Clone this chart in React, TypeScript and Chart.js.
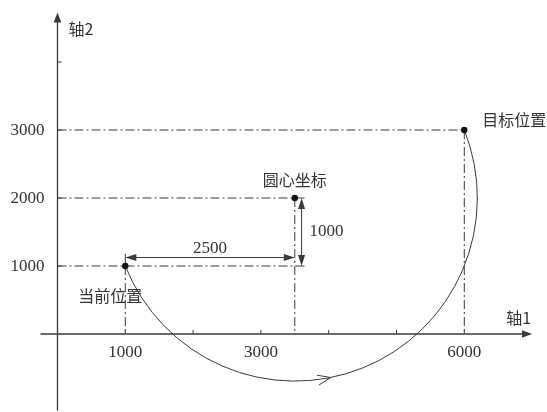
import React, { useEffect, useRef } from "react";
import { Chart, registerables } from "chart.js";
Chart.register(...registerables);

// Key positions (axis units)
const pointNames = ["当前位置", "圆心坐标", "目标位置"];
const pointX = [1000, 3500, 6000];
const pointY = [1000, 2000, 3000];
// Axis ticks
const xTicks = [1000, 2000, 3000, 4000, 5000, 6000];
const xTickLabels = [1000, 3000, 6000];
const yTicks = [1000, 2000, 3000, 4000];
const yTickLabels = [1000, 2000, 3000];
const axisNames = ["轴1", "轴2"];
// Axis extents
const xAxisRange = [-250, 7000];
const yAxisRange = [-1130, 4730];
// Guide line ends (dash-dot)
const hGuideEndX = [3650, 3650, 6000];
// Dimension line positions
const dimHY = 1125;
const dimVX = 3600;
const dimExtTopY = 1180;
// Arc direction arrow position (x value along the lower arc)
const arcArrowX = 4030;

const INK = "#3a3a3a";
const NUM_FONT = '17px "Liberation Serif", "DejaVu Serif", serif';
const CJK_FONT = '16px "Noto Sans CJK SC", "Noto Sans", sans-serif';

function arrowHead(ctx: CanvasRenderingContext2D, x: number, y: number, ang: number, len: number, hw: number, filled: boolean) {
  const bx = x - Math.cos(ang) * len;
  const by = y - Math.sin(ang) * len;
  const nx = -Math.sin(ang) * hw;
  const ny = Math.cos(ang) * hw;
  ctx.beginPath();
  ctx.moveTo(bx + nx, by + ny);
  ctx.lineTo(x, y);
  ctx.lineTo(bx - nx, by - ny);
  if (filled) {
    ctx.closePath();
    ctx.fill();
  } else {
    ctx.stroke();
  }
}

const diagramPlugin = {
  id: "diagram",
  beforeDatasetsDraw(chart: any) {
    const ctx: CanvasRenderingContext2D = chart.ctx;
    const xs = chart.scales.x;
    const ys = chart.scales.y;
    const X = (v: number) => xs.getPixelForValue(v);
    const Y = (v: number) => ys.getPixelForValue(v);
    const ox = X(0);
    const oy = Y(0);
    ctx.save();
    ctx.strokeStyle = INK;
    ctx.fillStyle = INK;
    ctx.lineWidth = 1.3;
    // x axis
    ctx.beginPath();
    ctx.moveTo(X(xAxisRange[0]), oy);
    ctx.lineTo(X(xAxisRange[1]) - 4, oy);
    ctx.stroke();
    arrowHead(ctx, X(xAxisRange[1]), oy, 0, 10, 3.8, true);
    // y axis
    ctx.beginPath();
    ctx.moveTo(ox, Y(yAxisRange[0]));
    ctx.lineTo(ox, Y(yAxisRange[1]) + 4);
    ctx.stroke();
    arrowHead(ctx, ox, Y(yAxisRange[1]), -Math.PI / 2, 10, 3.8, true);
    // ticks
    ctx.lineWidth = 1;
    xTicks.forEach((t) => {
      ctx.beginPath();
      ctx.moveTo(X(t), oy);
      ctx.lineTo(X(t), oy - 4);
      ctx.stroke();
    });
    yTicks.forEach((t) => {
      ctx.beginPath();
      ctx.moveTo(ox, Y(t));
      ctx.lineTo(ox + 4, Y(t));
      ctx.stroke();
    });
    // tick labels
    ctx.font = NUM_FONT;
    ctx.fillStyle = "#333";
    ctx.textAlign = "center";
    ctx.textBaseline = "middle";
    xTickLabels.forEach((t) => ctx.fillText(String(t), X(t), oy + 19));
    ctx.textAlign = "right";
    yTickLabels.forEach((t) => ctx.fillText(String(t), ox - 13, Y(t) + 1));
    // axis names
    ctx.font = CJK_FONT;
    ctx.textAlign = "right";
    ctx.fillText(axisNames[0], X(xAxisRange[1]) - 1, oy - 16);
    ctx.textAlign = "left";
    ctx.fillText(axisNames[1], ox + 11, Y(yAxisRange[1]) + 17);

    // extension line for horizontal dimension
    ctx.strokeStyle = INK;
    ctx.lineWidth = 1;
    ctx.beginPath();
    ctx.moveTo(X(pointX[0]), Y(pointY[0]));
    ctx.lineTo(X(pointX[0]), Y(dimExtTopY));
    ctx.stroke();
    // horizontal dimension
    const hx1 = X(pointX[0]);
    const hx2 = X(pointX[1]);
    const hy = Y(dimHY);
    ctx.beginPath();
    ctx.moveTo(hx1 + 4, hy);
    ctx.lineTo(hx2 - 4, hy);
    ctx.stroke();
    ctx.fillStyle = INK;
    arrowHead(ctx, hx1, hy, Math.PI, 11, 3.5, true);
    arrowHead(ctx, hx2, hy, 0, 11, 3.5, true);
    // vertical dimension
    const vx = X(dimVX);
    const vy1 = Y(pointY[1]);
    const vy2 = Y(pointY[0]);
    ctx.beginPath();
    ctx.moveTo(vx, vy1 + 4);
    ctx.lineTo(vx, vy2 - 4);
    ctx.stroke();
    arrowHead(ctx, vx, vy1, -Math.PI / 2, 11, 3.5, true);
    arrowHead(ctx, vx, vy2, Math.PI / 2, 11, 3.5, true);
    ctx.font = NUM_FONT;
    ctx.fillStyle = "#333";
    ctx.textAlign = "center";
    ctx.fillText(String(pointX[1] - pointX[0]), (hx1 + hx2) / 2, hy - 9);
    ctx.textAlign = "left";
    ctx.fillText(String(pointY[1] - pointY[0]), vx + 8, (vy1 + vy2) / 2);

    // arc from current to target around centre
    const cx = X(pointX[1]);
    const cy = Y(pointY[1]);
    const r = Math.hypot(pointX[1] - pointX[0], pointY[1] - pointY[0]);
    const rx = Math.abs(X(pointX[1] + r) - cx);
    const ry = Math.abs(Y(pointY[1] + r) - cy);
    const a0 = Math.atan2((Y(pointY[0]) - cy) / ry, (X(pointX[0]) - cx) / rx);
    const a1 = Math.atan2((Y(pointY[2]) - cy) / ry, (X(pointX[2]) - cx) / rx);
    ctx.strokeStyle = INK;
    ctx.lineWidth = 1;
    ctx.beginPath();
    ctx.ellipse(cx, cy, rx, ry, 0, a0, a1, true);
    ctx.stroke();
    // direction arrow on the arc
    const ta = Math.asin((X(arcArrowX) - cx) / rx);
    const t = Math.PI / 2 - ta;
    const px = cx + rx * Math.cos(t);
    const py = cy + ry * Math.sin(t);
    const dir = Math.atan2(-ry * Math.cos(t), rx * Math.sin(t));
    arrowHead(ctx, px, py, dir, 13, 5, false);

    // point names
    ctx.font = CJK_FONT;
    ctx.fillStyle = "#333";
    ctx.textAlign = "left";
    ctx.fillText(pointNames[0], X(pointX[0]) - 47, Y(pointY[0]) + 30);
    ctx.textAlign = "center";
    ctx.fillText(pointNames[1], X(pointX[1]), Y(pointY[1]) - 18);
    ctx.textAlign = "left";
    ctx.fillText(pointNames[2], X(pointX[2]) + 18, Y(pointY[2]) - 10);
    ctx.restore();
  },
};

export default function App() {
  const ref = useRef<HTMLCanvasElement | null>(null);
  useEffect(() => {
    if (!ref.current) return;
    const dash = [9, 3, 2, 3];
    const guide = (pts: { x: number; y: number }[]) => ({
      type: "line" as const,
      data: pts,
      showLine: true,
      borderColor: INK,
      borderWidth: 1,
      borderDash: dash,
      pointRadius: 0,
      fill: false,
    });
    const datasets: any[] = [
      {
        type: "scatter",
        data: pointX.map((x, i) => ({ x, y: pointY[i] })),
        pointRadius: 3.2,
        pointBackgroundColor: "#111",
        pointBorderColor: "#111",
        pointBorderWidth: 0,
      },
    ];
    pointX.forEach((x, i) => {
      datasets.push(guide([{ x: 0, y: pointY[i] }, { x: hGuideEndX[i], y: pointY[i] }]));
      datasets.push(guide([{ x, y: pointY[i] }, { x, y: 0 }]));
    });
    const chart = new Chart(ref.current, {
      type: "scatter",
      data: { datasets },
      options: {
        animation: false,
        responsive: false,
        events: [],
        layout: { padding: 0, autoPadding: false },
        plugins: { legend: { display: false }, tooltip: { enabled: false } },
        scales: {
          x: { type: "linear", display: false, min: -848, max: 7220 },
          y: { type: "linear", display: false, min: -1147, max: 4912 },
        },
      },
      plugins: [diagramPlugin],
    });
    return () => chart.destroy();
  }, []);
  return (
    <div style={{ position: "fixed", left: 0, top: 0, width: 547, height: 412, background: "#fff" }}>
      <canvas ref={ref} width={547} height={412} />
    </div>
  );
}
